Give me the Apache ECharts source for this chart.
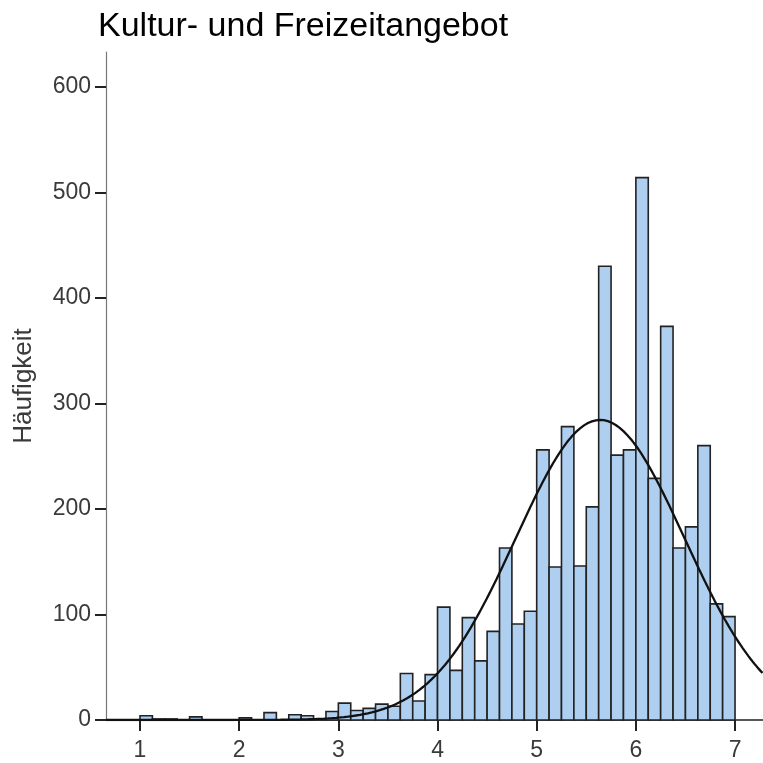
<!DOCTYPE html>
<html>
<head>
<meta charset="utf-8">
<script src="https://cdn.jsdelivr.net/npm/echarts@6/dist/echarts.min.js"></script>
<style>
  html, body { margin: 0; padding: 0; background: #fff; }
  #chart { width: 763px; height: 763px; }
</style>
</head>
<body>
<div id="chart"></div>
<script>
// Histogram bins: lower edge of each bin (width 0.125) and its frequency
const binWidth = 0.125;
const binStarts = [
  1.0, 1.125, 1.25, 1.375, 1.5, 1.625, 1.75, 1.875,
  2.0, 2.125, 2.25, 2.375, 2.5, 2.625, 2.75, 2.875,
  3.0, 3.125, 3.25, 3.375, 3.5, 3.625, 3.75, 3.875,
  4.0, 4.125, 4.25, 4.375, 4.5, 4.625, 4.75, 4.875,
  5.0, 5.125, 5.25, 5.375, 5.5, 5.625, 5.75, 5.875,
  6.0, 6.125, 6.25, 6.375, 6.5, 6.625, 6.75, 6.875
];
const counts = [
  4, 1, 1, 0, 3, 0, 0, 0,
  2, 0, 7, 0, 5, 4, 1, 8,
  16, 9, 11, 15, 13, 44, 18, 43,
  107, 47, 97, 56, 84, 163, 91, 103,
  256, 145, 278, 146, 202, 430, 251, 256,
  514, 229, 373, 163, 183, 260, 110, 98
];

// Fitted normal curve parameters
const normalMean = 5.64;
const normalSd = 0.85;

// Axis ticks
const xTicks = [1, 2, 3, 4, 5, 6, 7];
const yTicks = [0, 100, 200, 300, 400, 500, 600];
const xMin = 0.657, xMax = 7.282;
const yMin = 0, yMax = 633;

const totalN = counts.reduce((a, b) => a + b, 0);

// Bars as [start, end, count]
const barData = binStarts.map((s, i) => [s, s + binWidth, counts[i]]);

// Normal density scaled to the histogram counts
const curveData = [];
for (let x = xMin; x <= xMax + 1e-9; x += 0.02) {
  const z = (x - normalMean) / normalSd;
  const y = totalN * binWidth * Math.exp(-0.5 * z * z) / (normalSd * Math.sqrt(2 * Math.PI));
  curveData.push([x, y]);
}

const labelColor = '#3a3a3a';
const fontFamily = '"Liberation Sans", Arial, sans-serif';

const chart = echarts.init(document.getElementById('chart'));
chart.setOption({
  animation: false,
  backgroundColor: '#ffffff',
  title: {
    text: 'Kultur- und Freizeitangebot',
    left: 93,
    top: 5,
    textStyle: { fontFamily, fontSize: 34, fontWeight: 'normal', color: '#000' }
  },
  grid: { left: 106, right: 0, top: 52, bottom: 43, containLabel: false },
  xAxis: {
    type: 'value',
    min: xMin,
    max: xMax,
    splitLine: { show: false },
    axisLine: { show: true, onZero: false, lineStyle: { color: '#222', width: 1.5 } },
    axisTick: { show: true, length: 11, customValues: xTicks, lineStyle: { color: '#222', width: 2 } },
    axisLabel: { customValues: xTicks, margin: 19, fontFamily, fontSize: 23, color: labelColor }
  },
  yAxis: {
    type: 'value',
    min: yMin,
    max: yMax,
    name: 'Häufigkeit',
    nameLocation: 'middle',
    nameGap: 69,
    nameRotate: 90,
    nameTextStyle: { fontFamily, fontSize: 26, color: labelColor },
    splitLine: { show: false },
    axisLine: { show: true, lineStyle: { color: '#777', width: 1.2 } },
    axisTick: { show: true, length: 11, customValues: yTicks, lineStyle: { color: '#222', width: 2 } },
    axisLabel: { customValues: yTicks, margin: 15, fontFamily, fontSize: 23, color: labelColor }
  },
  series: [
    {
      type: 'custom',
      data: barData,
      encode: { x: [0, 1], y: 2 },
      renderItem: function (params, api) {
        const p0 = api.coord([api.value(0), api.value(2)]);
        const p1 = api.coord([api.value(1), 0]);
        return {
          type: 'rect',
          shape: { x: p0[0], y: p0[1], width: p1[0] - p0[0], height: p1[1] - p0[1] },
          style: { fill: '#aecff0', stroke: '#222', lineWidth: 1.6 }
        };
      },
      z: 2
    },
    {
      type: 'line',
      data: curveData,
      showSymbol: false,
      smooth: false,
      clip: true,
      lineStyle: { color: '#111', width: 2.3 },
      z: 3
    }
  ]
});
</script>
</body>
</html>
